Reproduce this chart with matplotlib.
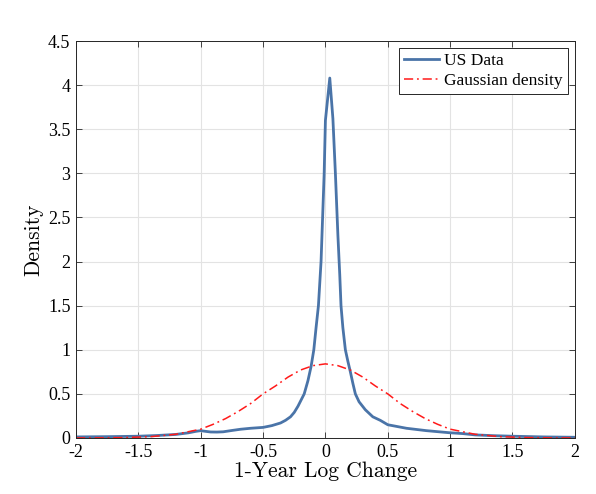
import numpy as np
import matplotlib
matplotlib.use('Agg')
import matplotlib.pyplot as plt

plt.rcParams['axes.unicode_minus'] = False

us_x = [-2.0, -1.75, -1.5, -1.35, -1.2, -1.1, -1.04, -1.0, -0.96, -0.92, -0.87,
        -0.82, -0.75, -0.68, -0.6, -0.5, -0.43, -0.36, -0.32, -0.28, -0.25,
        -0.22, -0.17, -0.14, -0.115, -0.093, -0.075, -0.056, -0.035, -0.01,
        0.0, 0.035, 0.06, 0.08, 0.1, 0.115, 0.125, 0.14, 0.16, 0.18, 0.2, 0.22,
        0.24, 0.27, 0.32, 0.38, 0.44, 0.5, 0.65, 0.81, 0.99, 1.1, 1.2, 1.35,
        1.5, 1.75, 2.0]
us_y = [0.012, 0.015, 0.02, 0.028, 0.04, 0.058, 0.075, 0.083, 0.075, 0.068, 0.067,
        0.07, 0.085, 0.099, 0.11, 0.12, 0.14, 0.17, 0.2, 0.24, 0.29, 0.36, 0.5,
        0.65, 0.81, 1.0, 1.25, 1.5, 2.0, 3.0, 3.6, 4.08, 3.62, 3.0, 2.3, 1.85,
        1.5, 1.25, 1.0, 0.87, 0.75, 0.62, 0.5, 0.41, 0.32, 0.24, 0.2, 0.15,
        0.11, 0.083, 0.06, 0.05, 0.035, 0.026, 0.02, 0.012, 0.008]

# fitted normal curve
gauss_x = [-2.0, -1.8, -1.6, -1.4, -1.2, -1.0, -0.9, -0.8, -0.7, -0.6, -0.5,
           -0.4, -0.3, -0.2, -0.1, 0.0, 0.1, 0.2, 0.3, 0.4, 0.5, 0.6, 0.7, 0.8,
           0.9, 1.0, 1.2, 1.4, 1.6, 1.8, 2.0]
gauss_y = [0.0003, 0.001, 0.005, 0.015, 0.042, 0.1, 0.155, 0.22, 0.3, 0.39, 0.5,
           0.59, 0.69, 0.77, 0.82, 0.84, 0.82, 0.77, 0.69, 0.59, 0.5, 0.39, 0.3,
           0.22, 0.155, 0.1, 0.042, 0.015, 0.005, 0.001, 0.0003]

xticks = [-2, -1.5, -1, -0.5, 0, 0.5, 1, 1.5, 2]
yticks = [0, 0.5, 1, 1.5, 2, 2.5, 3, 3.5, 4, 4.5]

fig = plt.figure(figsize=(5.96, 4.94), dpi=100)
ax = fig.add_axes([0.1275, 0.1134, 0.837, 0.8036])

ax.plot(us_x, us_y, color='#4a74a8', lw=2.0, label='US Data')
ax.plot(gauss_x, gauss_y, color='#ff1a1a', lw=1.1, ls=(0, (6, 2.5, 1.2, 2.5)),
        label='Gaussian density')

ax.set_xlim(-2, 2)
ax.set_ylim(0, 4.5)
ax.set_xticks(xticks)
ax.set_yticks(yticks)
ax.set_xticklabels([f'{t:g}' for t in xticks], family='Liberation Serif', fontsize=13)
ax.set_yticklabels([f'{t:g}' for t in yticks], family='Liberation Serif', fontsize=13)
ax.tick_params(direction='in', top=True, right=True, length=4, width=0.6,
               colors='#262626', labelcolor='black', pad=4)
ax.grid(True, color='#e3e3e3', lw=0.8)
ax.set_axisbelow(True)
for s in ax.spines.values():
    s.set_color('#262626')
    s.set_linewidth(0.7)

ax.set_xlabel('1-Year Log Change', family='cmr10', fontsize=15.5, labelpad=1)
ax.set_ylabel('Density', family='cmr10', fontsize=15.5, labelpad=3)

leg = ax.legend(loc='upper right', prop={'family': 'Liberation Serif', 'size': 12.5},
                fancybox=False, edgecolor='#262626', framealpha=1,
                handlelength=2.0, handletextpad=0.3, borderpad=0.3,
                labelspacing=0.2, borderaxespad=0.4)
leg.get_frame().set_linewidth(0.7)

fig.savefig('out.png', dpi=100)
